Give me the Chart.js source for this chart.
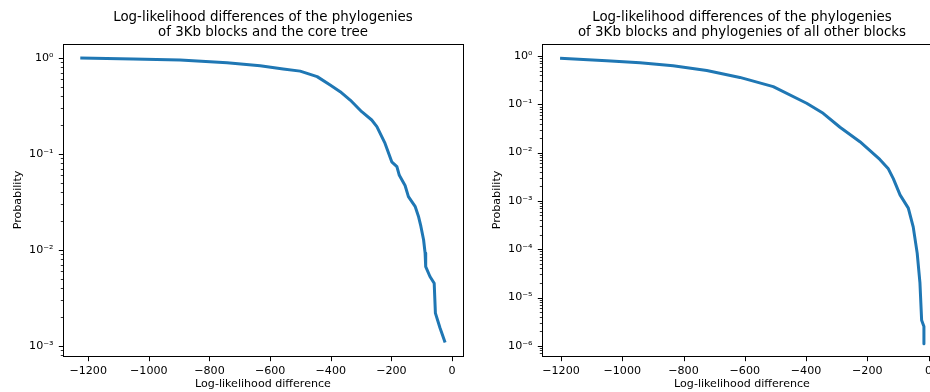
<!DOCTYPE html>
<html>
<head>
<meta charset="utf-8">
<script src="https://cdn.jsdelivr.net/npm/chart.js@4.4.1/dist/chart.umd.min.js"></script>
<style>
  html, body { margin: 0; padding: 0; background: #ffffff; overflow: hidden; width: 930px; height: 392px; }
  canvas { position: absolute; top: 0; }
  #c1 { left: 0px; }
  #c2 { left: 479px; }
</style>
</head>
<body>
<canvas id="c1" width="526" height="392"></canvas>
<canvas id="c2" width="526" height="392"></canvas>
<script>
// ---- data ----
const leftTitle = ['Log-likelihood differences of the phylogenies', 'of 3Kb blocks and the core tree'];
const rightTitle = ['Log-likelihood differences of the phylogenies', 'of 3Kb blocks and phylogenies of all other blocks'];
const xAxisLabel = 'Log-likelihood difference';
const yAxisLabel = 'Probability';

const xTicks = [-1200, -1000, -800, -600, -400, -200, 0];
const leftYTicks = [1, 0.1, 0.01, 0.001];
const rightYTicks = [1, 0.1, 0.01, 0.001, 0.0001, 0.00001, 0.000001];

const leftX = [-1226, -1052, -897, -742, -633, -557, -501, -445, -402, -369, -336, -298, -265, -248, -221, -199, -182, -174, -155, -144, -122, -111, -103, -94, -89, -87, -73, -59, -55, -40, -23];
const leftY = [1.0, 0.976, 0.953, 0.894, 0.83, 0.77, 0.73, 0.64, 0.523, 0.446, 0.365, 0.276, 0.226, 0.193, 0.129, 0.083, 0.074, 0.060, 0.047, 0.036, 0.0285, 0.0225, 0.0177, 0.0128, 0.0093, 0.0067, 0.0053, 0.0045, 0.0022, 0.00155, 0.00109];

const rightX = [-1203, -1051, -942, -834, -724, -616, -507, -398, -344, -289, -224, -159, -132, -115, -93, -66, -50, -37, -28, -22.5, -15, -15];
const rightY = [0.896, 0.80, 0.727, 0.63, 0.50, 0.36, 0.232, 0.105, 0.065, 0.0335, 0.0168, 0.0072, 0.0047, 0.0029, 0.00133, 0.00071, 0.00029, 0.000083, 0.000020, 0.0000034, 0.0000025, 0.0000011];

// ---- helpers ----
const SUP = {'0':'⁰','1':'¹','2':'²','3':'³','4':'⁴','5':'⁵','6':'⁶','7':'⁷','8':'⁸','9':'⁹','-':'⁻'};
function powLabel(v) {
  const e = Math.round(Math.log10(v));
  return '10' + String(e).split('').map(c => SUP[c]).join('');
}
function xLabel(v) { return v < 0 ? '\u2212' + Math.abs(v) : String(v); }

Chart.defaults.font.family = 'DejaVu Sans';
Chart.defaults.color = '#000000';

const framePlugin = {
  id: 'frame',
  afterDraw(chart) {
    const ctx = chart.ctx;
    const a = chart.chartArea;
    const xs = chart.scales.x, ys = chart.scales.y;
    const L = Math.round(a.left) + 0.5, R = Math.round(a.right) + 0.5;
    const T = Math.round(a.top) + 0.5, B = Math.round(a.bottom) + 0.5;
    ctx.save();
    ctx.strokeStyle = '#000000';
    ctx.lineWidth = 1;
    ctx.strokeRect(L, T, R - L, B - T);
    // x major ticks
    ctx.beginPath();
    xTicks.forEach(v => {
      if (v < xs.min || v > xs.max) return;
      const px = Math.round(xs.getPixelForValue(v)) + 0.5;
      ctx.moveTo(px, B); ctx.lineTo(px, B + 4.7);
    });
    ctx.stroke();
    // y major ticks
    const lo = Math.floor(Math.log10(ys.min)), hi = Math.ceil(Math.log10(ys.max));
    ctx.beginPath();
    for (let e = lo; e <= hi; e++) {
      const v = Math.pow(10, e);
      if (v < ys.min || v > ys.max) continue;
      const py = Math.round(ys.getPixelForValue(v)) + 0.5;
      ctx.moveTo(L, py); ctx.lineTo(L - 4.7, py);
    }
    ctx.stroke();
    // y minor ticks
    ctx.lineWidth = 0.8;
    ctx.beginPath();
    for (let e = lo; e <= hi; e++) {
      for (let m = 2; m <= 9; m++) {
        const v = m * Math.pow(10, e);
        if (v < ys.min || v > ys.max) continue;
        const py = Math.round(ys.getPixelForValue(v)) + 0.5;
        ctx.moveTo(L, py); ctx.lineTo(L - 2.7, py);
      }
    }
    ctx.stroke();
    ctx.restore();
  }
};

function makeChart(id, title, xs, ys, xMin, xMax, yMin, yMax, yTicks) {
  const pts = xs.map((x, i) => ({x: x, y: ys[i]}));
  return new Chart(document.getElementById(id), {
    type: 'line',
    data: {
      datasets: [{
        data: pts,
        borderColor: '#1f77b4',
        borderWidth: 3,
        pointRadius: 0,
        tension: 0,
        fill: false,
        borderCapStyle: 'butt',
        borderJoinStyle: 'round'
      }]
    },
    options: {
      responsive: false,
      animation: false,
      devicePixelRatio: 1,
      layout: { padding: 0 },
      plugins: {
        legend: { display: false },
        tooltip: { enabled: false },
        title: {
          display: true,
          text: title,
          font: { size: 13.4, weight: 'normal', lineHeight: 1.12 },
          color: '#000000',
          padding: { top: 10.5, bottom: 3.5 }
        }
      },
      scales: {
        x: {
          type: 'linear',
          position: 'bottom',
          min: xMin, max: xMax,
          afterBuildTicks: (s) => { s.ticks = xTicks.map(v => ({value: v})); },
          afterFit: (s) => { s.height = 36; },
          grid: { display: false, drawTicks: false },
          border: { display: false },
          ticks: { callback: (v) => xLabel(v), font: { size: 11.1 }, padding: 8.5, autoSkip: false, maxRotation: 0, color: '#000000' },
          title: { display: true, text: xAxisLabel, font: { size: 11.1 }, padding: { top: 0, bottom: 1.3 }, color: '#000000' }
        },
        y: {
          type: 'logarithmic',
          position: 'left',
          min: yMin, max: yMax,
          afterBuildTicks: (s) => { s.ticks = yTicks.map(v => ({value: v})); },
          afterFit: (s) => { s.width = 63; },
          grid: { display: false, drawTicks: false },
          border: { display: false },
          ticks: { callback: (v) => powLabel(v), font: { size: 11.1 }, padding: 9.5, autoSkip: false, color: '#000000' },
          title: { display: true, text: yAxisLabel, font: { size: 11.1 }, padding: { top: 11.3, bottom: 0 }, color: '#000000' }
        },
        yR: {
          type: 'linear',
          position: 'right',
          display: true,
          afterFit: (s) => { s.width = 63; },
          grid: { display: false, drawTicks: false },
          border: { display: false },
          ticks: { display: false }
        }
      }
    },
    plugins: [framePlugin]
  });
}

makeChart('c1', leftTitle, leftX, leftY, -1283, 36, 0.000787, 1.399, leftYTicks);
makeChart('c2', rightTitle, rightX, rightY, -1262, 44, 0.000000615, 1.77, rightYTicks);
</script>
</body>
</html>
